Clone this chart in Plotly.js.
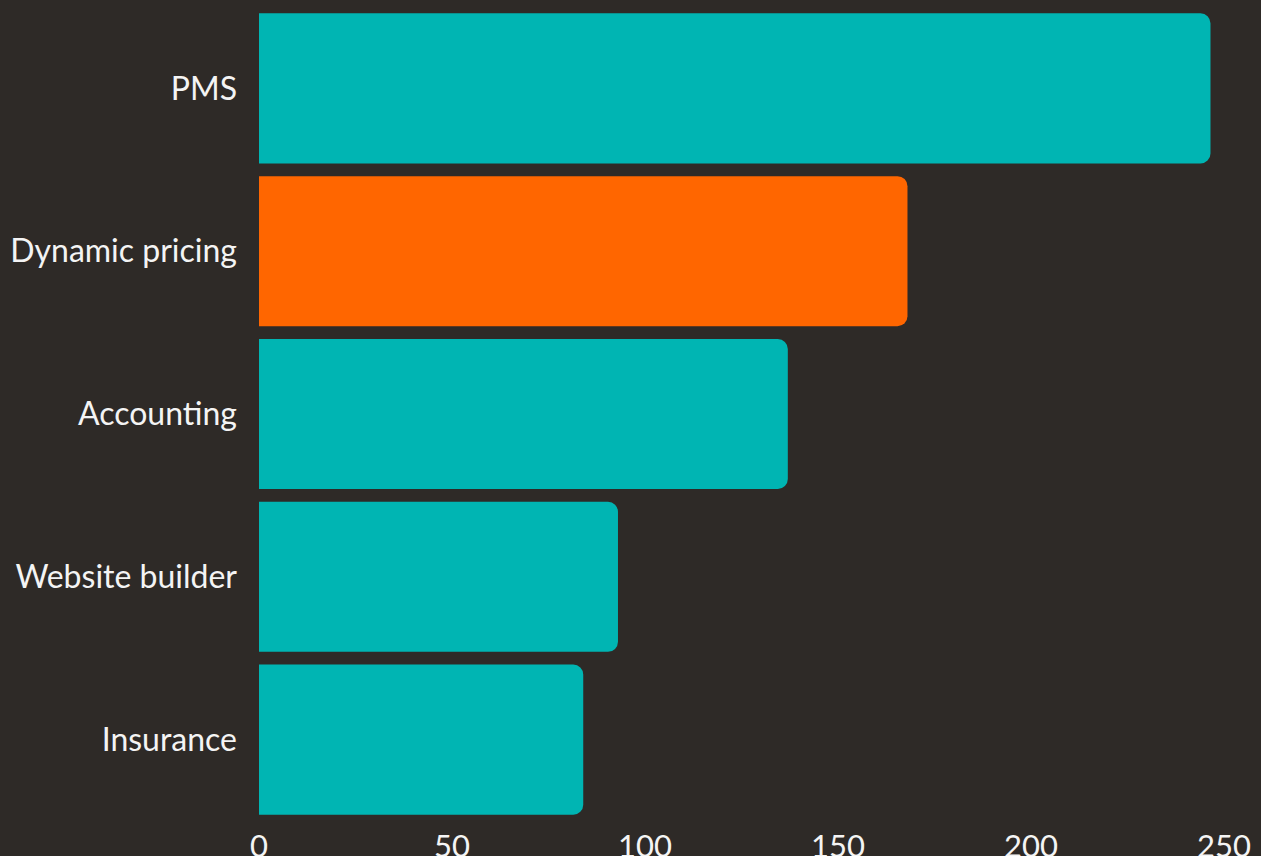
<!DOCTYPE html>
<html>
<head>
<meta charset="utf-8">
<script src="https://cdn.plot.ly/plotly-3.0.1.min.js"></script>
<style>
html,body{margin:0;padding:0;background:#2e2a27;}
#chart{width:1261px;height:856px;}
</style>
</head>
<body>
<div id="chart"></div>
<script>
const categories = ["PMS", "Dynamic pricing", "Accounting", "Website builder", "Insurance"];
const values = [246.5, 168, 137, 93, 84];
const barColors = ["#00b5b3", "#ff6600", "#00b5b3", "#00b5b3", "#00b5b3"];
const tickValues = [0, 50, 100, 150, 200, 250];

const trace = {
  type: "bar",
  orientation: "h",
  y: categories,
  x: values,
  marker: {color: barColors, line: {width: 0}},
  hoverinfo: "none"
};

const layout = {
  width: 1261,
  height: 856,
  paper_bgcolor: "#2e2a27",
  plot_bgcolor: "#2e2a27",
  margin: {l: 259, r: 37, t: 7, b: 35},
  bargap: 0.078,
  barcornerradius: 10,
  showlegend: false,
  font: {family: "Lato, sans-serif", color: "#f4f4f4", size: 30},
  xaxis: {
    range: [0, 250],
    tickvals: tickValues,
    ticktext: tickValues.map(String),
    showgrid: false,
    zeroline: false,
    showline: false,
    ticks: "",
    ticklabelstandoff: 4,
    tickfont: {size: 31, color: "#f4f4f4"},
    fixedrange: true
  },
  yaxis: {
    categoryorder: "array",
    categoryarray: categories.slice().reverse(),
    showgrid: false,
    zeroline: false,
    showline: false,
    ticks: "",
    ticklabelstandoff: 21,
    tickfont: {size: 32, color: "#f4f4f4"},
    fixedrange: true
  }
};

Plotly.newPlot("chart", [trace], layout, {displayModeBar: false, staticPlot: true});
</script>
</body>
</html>
